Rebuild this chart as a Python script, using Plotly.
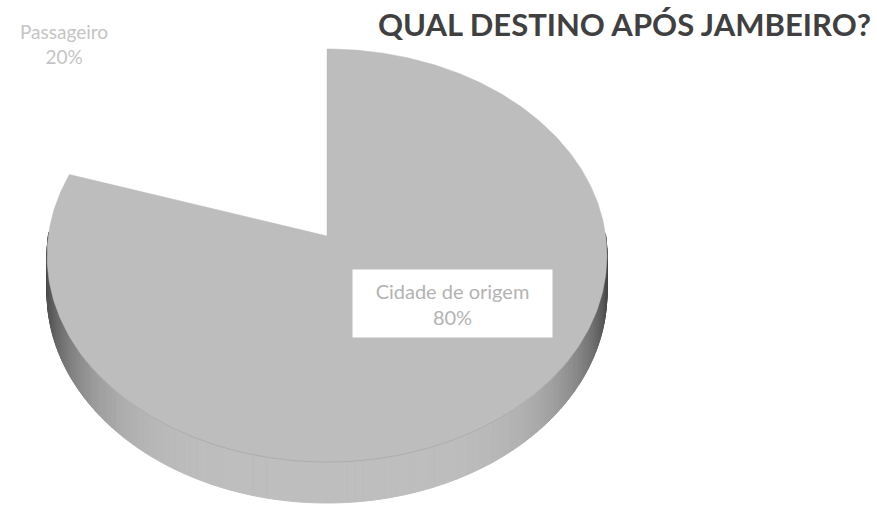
import numpy as np
import plotly.graph_objects as go

# ---- data -------------------------------------------------------------
categories = ["Passageiro", "Cidade de origem"]
values = [20, 80]
slice_colors = ["#ffffff", "#bdbdbd"]
title_text = "QUAL DESTINO APÓS JAMBEIRO?"

# ---- 3D pie geometry (pixel space, y grows downwards) -----------------
W, H = 877, 506
CX, CY = 327.0, 236.0      # projected centre of the pie
RX, RY = 278.7, 204.7      # horizontal / vertical radius of the top face
PERSP = 0.0947             # perspective strength (far side smaller)
DEPTH = 37.0               # thickness of the disc
START = 90.0               # first slice starts at 12 o'clock, counter-clockwise


def project(theta_deg, drop=0.0):
    t = np.radians(theta_deg)
    X, Z = np.cos(t), np.sin(t)
    s = 1.0 / (1.0 + PERSP * Z)
    return CX + RX * X * s, CY - RY * Z * s + drop * s


def shade(theta_deg):
    c = abs(np.cos(np.radians(theta_deg)))
    g = int(round(190 - 120 * c ** 5))
    return f"rgb({g},{g},{g})"


fig = go.Figure()

total = float(sum(values))
bounds = []
acc = 0.0
for v in values:
    a0 = START + 360.0 * acc / total
    acc += v
    a1 = START + 360.0 * acc / total
    bounds.append((a0, a1))

# side wall of the disc (only the front half is visible)
for (a0, a1), col in zip(bounds, slice_colors):
    th = np.linspace(a0, a1, int(abs(a1 - a0) * 2) + 2)
    th = th[np.sin(np.radians(th)) < 0.02]
    for i in range(len(th) - 1):
        t0, t1 = th[i], th[i + 1]
        x0, y0 = project(t0)
        x1, y1 = project(t1)
        x2, y2 = project(t1, DEPTH)
        x3, y3 = project(t0, DEPTH)
        c = shade(0.5 * (t0 + t1)) if col != "#ffffff" else "#f4f4f4"
        fig.add_trace(go.Scatter(
            x=[x0, x1, x2, x3, x0], y=[y0, y1, y2, y3, y0],
            mode="lines", fill="toself", fillcolor=c,
            line=dict(color=c, width=1), hoverinfo="skip"))

# top faces of the slices
for (a0, a1), col in zip(bounds, slice_colors):
    th = np.linspace(a0, a1, 400)
    xs, ys = project(th)
    xs = np.concatenate([[CX], xs, [CX]])
    ys = np.concatenate([[CY], ys, [CY]])
    fig.add_trace(go.Scatter(
        x=xs, y=ys, mode="lines", fill="toself", fillcolor=col,
        line=dict(color=col, width=0.5), hoverinfo="skip"))

# faint front edge of the top face
th = np.linspace(215, 325, 200)
ex, ey = project(th)
fig.add_trace(go.Scatter(x=ex, y=ey, mode="lines",
                         line=dict(color="#adadad", width=1), hoverinfo="skip"))

# ---- labels -----------------------------------------------------------
label_font = "Lato, 'Open Sans', sans-serif"
fig.add_annotation(
    x=64, y=44, xref="x", yref="y",
    text=f"{categories[0]}<br>{values[0]}%",
    showarrow=False, align="center",
    font=dict(family=label_font, size=19, color="#c4c4c4"))

fig.add_annotation(
    x=452.5, y=303.5, xref="x", yref="y",
    text=f"{categories[1]}<br>{values[1]}%",
    showarrow=False, align="center", width=199, height=67,
    bgcolor="#ffffff", borderpad=0,
    font=dict(family=label_font, size=20, color="#b3b3b3"))

fig.add_annotation(
    x=624, y=24, xref="x", yref="y",
    text=f"<b>{title_text}</b>",
    showarrow=False, xanchor="center", yanchor="middle",
    font=dict(family=label_font, size=31, color="#404040"))

fig.update_layout(
    width=W, height=H,
    margin=dict(l=0, r=0, t=0, b=0),
    paper_bgcolor="#ffffff", plot_bgcolor="#ffffff",
    showlegend=False,
    xaxis=dict(range=[0, W], visible=False, fixedrange=True),
    yaxis=dict(range=[H, 0], visible=False, fixedrange=True),
)

fig.write_html("out.html")
